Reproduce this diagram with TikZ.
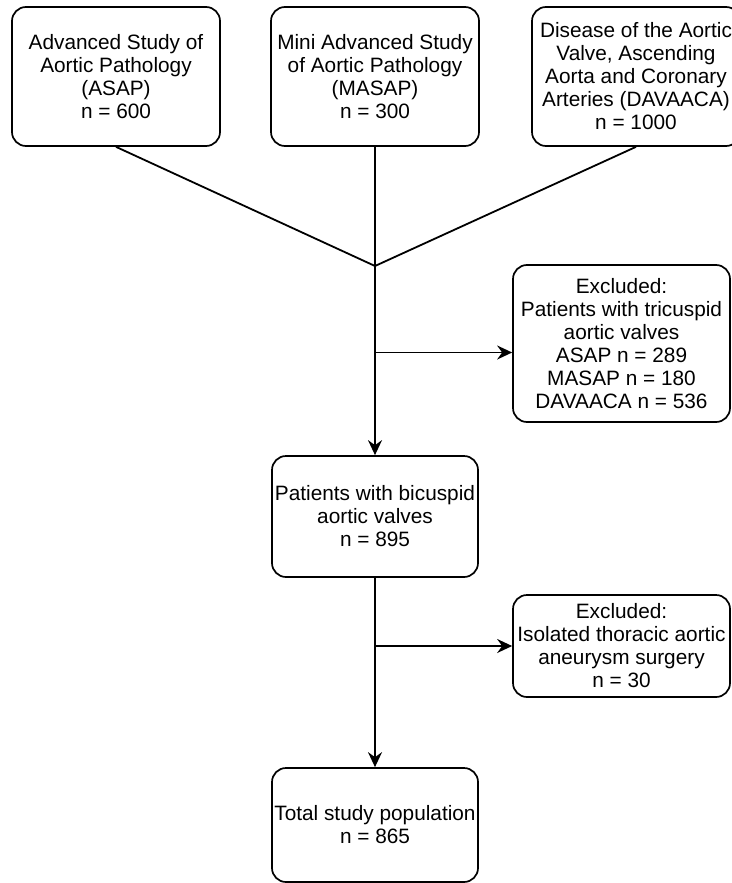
\documentclass[tikz,border=0pt]{standalone}
\usepackage{fontspec}
\setmainfont{Liberation Sans}
\usetikzlibrary{arrows.meta}
\usetikzlibrary{calc}

\begin{document}
\begin{tikzpicture}[x=1pt,y=-1pt,
        box/.style={draw,rounded corners=14pt,line width=1.7pt,align=center,
            inner sep=0pt,font=\fontsize{20.8}{23}\selectfont}]
        \useasboundingbox (0,0) rectangle (731,883);

        \node[box,minimum width=208pt,minimum height=139pt] (asap) at (116,76.5) {Advanced Study of\\Aortic Pathology\\(ASAP)\\n = 600};
        \node[box,minimum width=208pt,minimum height=139pt] (masap) at (375,76.5) {Mini Advanced Study\\of Aortic Pathology\\(MASAP)\\n = 300};
        \node[box,minimum width=208pt,minimum height=139pt] (davaaca) at (636,76.5) {Disease of the Aortic\\Valve, Ascending\\Aorta and Coronary\\Arteries (DAVAACA)\\n = 1000};
        \node[box,minimum width=217pt,minimum height=157pt] (excltri) at (621.5,343.5) {Excluded:\\Patients with tricuspid\\aortic valves\\ASAP n = 289\\MASAP n = 180\\DAVAACA n = 536};
        \node[box,minimum width=206pt,minimum height=121pt] (bicuspid) at (375,516.5) {Patients with bicuspid\\aortic valves\\n = 895};
        \node[box,minimum width=217pt,minimum height=102pt] (exclsurg) at (621.5,646) {Excluded:\\Isolated thoracic aortic\\aneurysm surgery\\n = 30};
        \node[box,minimum width=206pt,minimum height=114pt] (total) at (375,825) {Total study population\\n = 865};

        \coordinate (junction) at (375,266);
        \coordinate (tritap) at (375,352.5);
        \coordinate (surgtap) at (375,646);

        \begin{scope}[>={Stealth[length=15pt,width=14pt,inset=5pt]},
                every edge/.style={draw,line width=1.8pt}]
            \path (asap.south)    edge (junction);
            \path (masap.south)   edge (junction);
            \path (davaaca.south) edge (junction);
            \path [->] (junction) edge (bicuspid.north);
            \path [->] (tritap)   edge (tritap -| excltri.west);
            \path [->] (bicuspid.south) edge (total.north);
            \path [->] (surgtap)  edge (surgtap -| exclsurg.west);
        \end{scope}
    \end{tikzpicture}
\end{document}
